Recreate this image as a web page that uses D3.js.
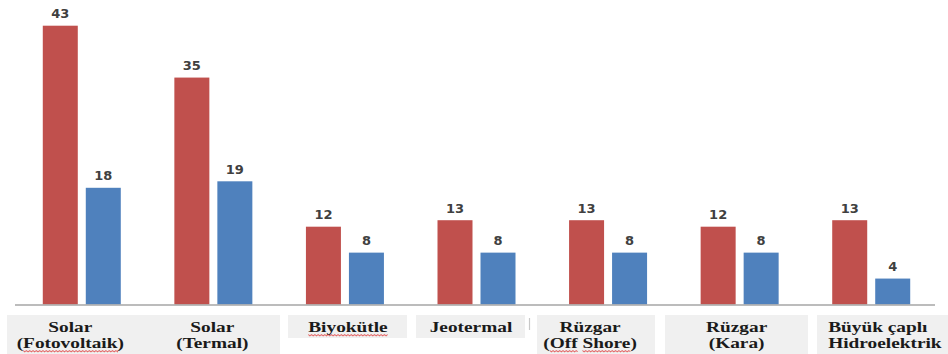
<!DOCTYPE html>
<html>
<head>
<meta charset="utf-8">
<script src="https://cdn.jsdelivr.net/npm/d3@7/dist/d3.min.js"></script>
<style>
  html, body { margin: 0; padding: 0; background: #ffffff; }
  svg { display: block; }
</style>
</head>
<body>
<svg id="chart" width="948" height="354"></svg>
<script>
// Energy sources (category axis)
const categories = [
  "Solar (Fotovoltaik)", "Solar (Termal)", "Biyokütle", "Jeotermal",
  "Rüzgar (Off Shore)", "Rüzgar (Kara)", "Büyük çaplı Hidroelektrik"
];
// Label lines shown under each group
const categoryLines = [
  ["Solar", "(Fotovoltaik)"],
  ["Solar", "(Termal)"],
  ["Biyokütle"],
  ["Jeotermal"],
  ["Rüzgar", "(Off Shore)"],
  ["Rüzgar", "(Kara)"],
  ["Büyük çaplı", "Hidroelektrik"]
];
// Two series per category
const seriesRed  = [43, 35, 12, 13, 13, 12, 13];
const seriesBlue = [18, 19, 8, 8, 8, 8, 4];
const seriesKeys = ["red", "blue"];

const W = 948, H = 354;
const svg = d3.select("#chart");

const colors = { red: "#c0504d", blue: "#4f81bd" };

const rows = categories.map((c, i) => ({ cat: c, red: seriesRed[i], blue: seriesBlue[i] }));

// Scales
const x0 = d3.scaleBand().domain(categories).range([16, 937]).paddingInner(0).paddingOuter(0);
const groupW = 78;
const x1 = d3.scaleBand().domain(seriesKeys).range([0, groupW]).paddingInner(2 - groupW / 43);
const y = d3.scaleLinear().domain([0, 43]).range([304.5, 25.7]);
const groupLeft = c => x0(c) + (x0.bandwidth() - groupW) / 2;

// Gray label backgrounds below the axis
const labelBoxes = [
  { x: 7,   y: 315, w: 273, h: 39 },
  { x: 288, y: 315, w: 119, h: 23 },
  { x: 416, y: 315, w: 109, h: 23 },
  { x: 537, y: 315, w: 118, h: 39 },
  { x: 665, y: 315, w: 143, h: 39 },
  { x: 817, y: 315, w: 131, h: 39 }
];
svg.append("g").selectAll("rect").data(labelBoxes).join("rect")
  .attr("x", d => d.x).attr("y", d => d.y)
  .attr("width", d => d.w).attr("height", d => d.h)
  .attr("fill", "#f0f0f0");

// small separator mark next to "Jeotermal"
svg.append("line")
  .attr("x1", 529.5).attr("x2", 529.5).attr("y1", 318).attr("y2", 330)
  .attr("stroke", "#c8c8c8").attr("stroke-width", 1.2);

// Bars
const groups = svg.append("g").selectAll("g").data(rows).join("g")
  .attr("transform", d => `translate(${groupLeft(d.cat)},0)`);

groups.selectAll("rect")
  .data(d => seriesKeys.map(k => ({ key: k, value: d[k] })))
  .join("rect")
  .attr("x", d => x1(d.key))
  .attr("y", d => y(d.value))
  .attr("width", x1.bandwidth())
  .attr("height", d => y(0) - y(d.value))
  .attr("fill", d => colors[d.key]);

// Value labels
groups.selectAll("text")
  .data(d => seriesKeys.map(k => ({ key: k, value: d[k] })))
  .join("text")
  .attr("x", d => x1(d.key) + x1.bandwidth() / 2)
  .attr("y", d => y(d.value) - 7.5)
  .attr("text-anchor", "middle")
  .attr("font-family", "DejaVu Sans, sans-serif")
  .attr("font-weight", "bold")
  .attr("font-size", 13)
  .attr("fill", "#404040")
  .text(d => d.value);

// Baseline
svg.append("line")
  .attr("x1", 15).attr("x2", 935)
  .attr("y1", y(0) + 0.5).attr("y2", y(0) + 0.5)
  .attr("stroke", "#a6a6a6").attr("stroke-width", 1.5);

// Category labels (bold serif, horizontally widened)
const labelDx = [-11.5, -1, 3, -5.5, -18, -3, -43];
const labelAnchor = ["middle", "middle", "middle", "middle", "middle", "middle", "start"];
// spell-check style squiggles: [category index, line index, from char, to char]
const squiggles = [[0, 1, 1, 11], [2, 0, 0, 8], [4, 1, 1, 3], [4, 1, 5, 9]];
const stretch = 1.38;

categoryLines.forEach((lines, i) => {
  const cx = x0(categories[i]) + x0.bandwidth() / 2 + labelDx[i];
  lines.forEach((line, j) => {
    const g = svg.append("g")
      .attr("transform", `translate(${cx},${332 + j * 16}) scale(${stretch},1)`);
    const t = g.append("text")
      .attr("x", 0).attr("y", 0)
      .attr("text-anchor", labelAnchor[i])
      .attr("font-family", "Liberation Serif, Times New Roman, serif")
      .attr("font-weight", "bold")
      .attr("font-size", 14)
      .attr("fill", "#1a1a1a")
      .text(line);
    squiggles.filter(s => s[0] === i && s[1] === j).forEach(s => {
      const node = t.node();
      const a = node.getStartPositionOfChar(s[2]).x;
      const b = node.getEndPositionOfChar(s[3]).x;
      let d = `M${a},2.5`;
      for (let xx = a, k = 0; xx < b; xx += 1.2, k++) {
        d += ` L${Math.min(xx + 1.2, b)},${k % 2 ? 2.5 : 3.8}`;
      }
      g.append("path").attr("d", d)
        .attr("fill", "none").attr("stroke", "#e03030")
        .attr("stroke-width", 0.8).attr("opacity", 0.7);
    });
  });
});
</script>
</body>
</html>
